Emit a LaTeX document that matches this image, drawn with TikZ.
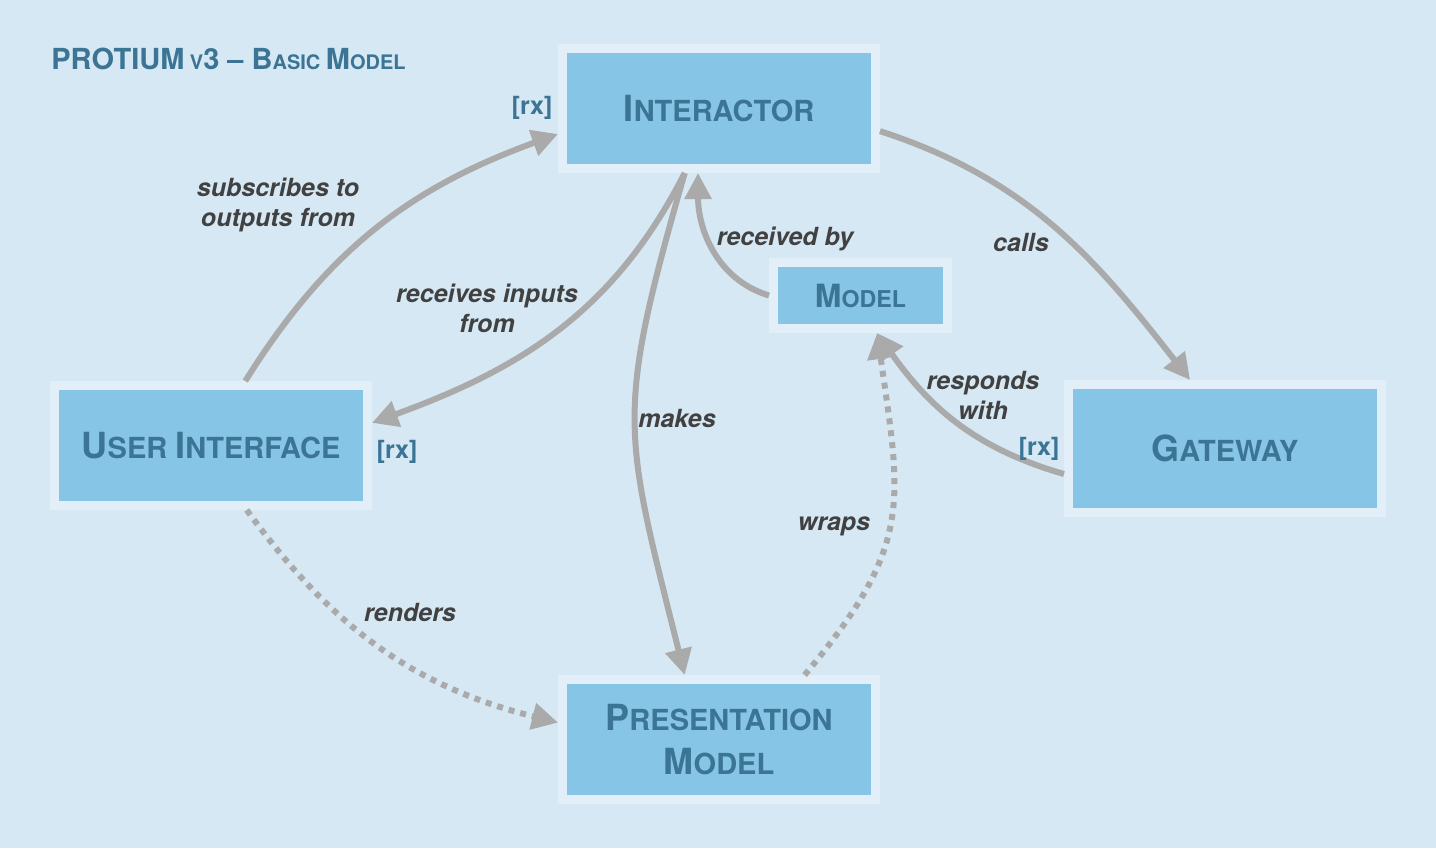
\documentclass[tikz,border=0pt]{standalone}
\usepackage{fontspec}
\setmainfont{TeX Gyre Heros}
\usetikzlibrary{arrows.meta}
\definecolor{bgblue}{HTML}{D5E8F4}
\definecolor{boxfill}{HTML}{86C5E5}
\definecolor{boxedge}{HTML}{E2EFF8}
\definecolor{boxtext}{HTML}{3B7494}
\definecolor{arrowgray}{HTML}{AAAAAA}
\definecolor{labelgray}{HTML}{414141}
% big first letters of the fake small caps
\newcommand\Up[2][18]{{\fontsize{#1}{#1}\selectfont #2}}
\begin{document}
\begin{tikzpicture}[x=0.5pt,y=0.5pt,
    box/.style={draw=boxedge,line width=4.5pt,fill=boxfill,inner sep=0pt,
      minimum width=156.5pt,minimum height=60pt,text=boxtext,align=center,
      font=\fontsize{14.5}{22}\selectfont\bfseries},
    flow/.style={draw=arrowgray,line width=3pt,-{Triangle[length=13pt,width=13pt]}},
    dots/.style={flow,dash pattern=on 3pt off 3pt},
    lbl/.style={text=labelgray,align=center,font=\fontsize{12.5}{15}\selectfont\bfseries\itshape},
    rx/.style={text=boxtext,font=\fontsize{12.5}{15}\selectfont\bfseries}]
  \fill[bgblue] (0,0) rectangle (1436,-848);
  \useasboundingbox (0,0) rectangle (1436,-848);
  \node[text=boxtext,anchor=base west,inner sep=0pt,font=\fontsize{10}{12}\selectfont\bfseries] (title) at (51,-69)
    {\Up[14.5]{PROTIUM} V\Up[14.5]{3 -- B}ASIC \Up[14.5]{M}ODEL};

  % boxes
  \node[box] (interactor) at (719,-108.5) {\Up{I}NTERACTOR};
  \node[box] (ui) at (211,-445.5) {\Up{U}SER \Up{I}NTERFACE};
  \node[box,minimum height=64pt] (gateway) at (1225,-448.5) {\Up{G}ATEWAY};
  \node[box] (pm) at (719,-739.5) {\Up{P}RESENTATION\\\Up{M}ODEL};
  \node[box,minimum width=87pt,minimum height=33pt,font=\fontsize{11.6}{14}\selectfont\bfseries]
    (model) at (860.5,-295.5) {\Up[16]{M}ODEL};

  % connectors
  \draw[flow] (ui.62) to[out=58,in=200] (interactor.189);
  \draw[flow] (interactor.242) to[out=243,in=20] (ui.8);
  \draw[flow] (interactor.242) to[out=254,in=104,looseness=1.3] (pm.118);
  \draw[flow] (model.180) to[out=163,in=-90] (interactor.252);
  \draw[flow] (interactor.-8) to[out=-18,in=128] (gateway.117);
  \draw[flow] (gateway.189) to[out=164,in=-55] (model.-66);
  \draw[dots] (ui.-61) to[out=-54,in=166] (pm.174);
  \draw[dots] (pm.37) to[out=50,in=-82,looseness=1.25] (model.-66);

  % labels
  \node[lbl] (subscribes) at (278,-205) {subscribes to\\outputs from};
  \node[lbl] (receives) at (487,-308) {receives inputs\\from};
  \node[lbl] (makes) at (677,-418) {makes};
  \node[lbl] (receivedby) at (785,-239) {received by};
  \node[lbl] (calls) at (1021,-242) {calls};
  \node[lbl] (responds) at (983,-395) {responds\\with};
  \node[lbl] (renders) at (410,-612) {renders};
  \node[lbl] (wraps) at (834,-526) {wraps};
  \node[rx] (rxinteractor) at (532,-108) {[rx]};
  \node[rx] (rxui) at (397,-452) {[rx]};
  \node[rx] (rxgateway) at (1039,-449) {[rx]};
\end{tikzpicture}
\end{document}
